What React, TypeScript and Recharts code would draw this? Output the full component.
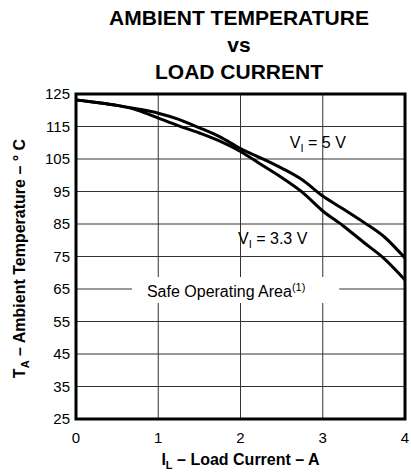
import React from 'react';
import {
  LineChart,
  Line,
  XAxis,
  YAxis,
  CartesianGrid,
  ReferenceArea,
  ReferenceDot,
} from 'recharts';

const loadCurrent = [0, 0.25, 0.5, 0.75, 1, 1.25, 1.5, 1.75, 2, 2.25, 2.5, 2.75, 3, 3.25, 3.5, 3.75, 4];
const temp5V = [123.2, 122.4, 121.5, 120.4, 119.1, 117.2, 114.6, 111.8, 108.2, 105.3, 102.2, 98.6, 93.6, 89.6, 85.5, 81.0, 74.5];
const temp33V = [123.2, 122.4, 121.5, 120.0, 117.6, 115.2, 113.0, 110.5, 107.3, 103.3, 99.3, 94.8, 89.0, 84.4, 79.3, 74.3, 67.8];
const xTicks = [0, 1, 2, 3, 4];
const yTicks = [25, 35, 45, 55, 65, 75, 85, 95, 105, 115, 125];
const titleLines = ['AMBIENT TEMPERATURE', 'vs', 'LOAD CURRENT'];

const data = loadCurrent.map((x, i) => ({ x, v5: temp5V[i], v33: temp33V[i] }));

const FONT = '"Liberation Sans", Arial, Helvetica, sans-serif';

const XLabel = (props: any) => {
  const vb = props.viewBox || {};
  const cx = vb.x + vb.width / 2;
  return (
    <text x={cx} y={vb.y + 46} textAnchor="middle" fontFamily={FONT} fontWeight="bold" fontSize={16} fill="#000">
      <tspan>I</tspan>
      <tspan fontSize={11} dy={4}>L</tspan>
      <tspan dy={-4}> – Load Current – A</tspan>
    </text>
  );
};

const YLabel = (props: any) => {
  const vb = props.viewBox || {};
  const cy = vb.y + vb.height / 2 + 2;
  const x = 25;
  return (
    <text x={x} y={cy} transform={`rotate(-90, ${x}, ${cy})`} textAnchor="middle" fontFamily={FONT} fontWeight="bold" fontSize={16} fill="#000">
      <tspan>T</tspan>
      <tspan fontSize={11} dy={4}>A</tspan>
      <tspan dy={-4}> – Ambient Temperature – ° C</tspan>
    </text>
  );
};

const SafeLabel = (props: any) => {
  const vb = props.viewBox || {};
  return (
    <text x={vb.x + 15} y={vb.y + 20} fontFamily={FONT} fontSize={16} fill="#000">
      <tspan>Safe Operating Area</tspan>
      <tspan fontSize={11} dy={-6}>(1)</tspan>
    </text>
  );
};

const makeVLabel = (rest: string) => (props: any) => {
  const vb = props.viewBox || {};
  const x = vb.x + (vb.width || 0) / 2;
  const y = vb.y + (vb.height || 0) / 2;
  return (
    <text x={x} y={y} fontFamily={FONT} fontSize={16} fill="#000">
      <tspan>V</tspan>
      <tspan fontSize={11} dy={4}>I</tspan>
      <tspan dy={-4}>{rest}</tspan>
    </text>
  );
};

export default function App() {
  return (
    <div style={{ position: 'absolute', left: 0, top: 0, width: 411, height: 473, background: '#fff' }}>
      <svg width={411} height={90} style={{ position: 'absolute', left: 0, top: 0 }}>
        {titleLines.map((t, i) => (
          <text key={t} x={239} y={25 + i * 27} textAnchor="middle" fontFamily={FONT} fontWeight="bold" fontSize={21} fill="#000">
            {t}
          </text>
        ))}
      </svg>
      <div style={{ position: 'absolute', left: 0, top: 0 }}>
        <LineChart width={411} height={473} data={data} margin={{ top: 94, right: 6, bottom: 24, left: 6 }}>
          <CartesianGrid stroke="#333" strokeWidth={1} horizontalValues={yTicks} verticalValues={xTicks} />
          <XAxis
            dataKey="x"
            type="number"
            domain={[0, 4]}
            ticks={xTicks}
            axisLine={false}
            tickLine={false}
            tickSize={6}
            tickMargin={7}
            height={30}
            tick={{ fontFamily: FONT, fontSize: 15, fill: '#000' }}
            label={<XLabel />}
          />
          <YAxis
            type="number"
            domain={[25, 125]}
            ticks={yTicks}
            axisLine={false}
            tickLine={false}
            tickSize={4}
            tickMargin={2}
            width={70}
            interval={0}
            tick={{ fontFamily: FONT, fontSize: 15, fill: '#000' }}
            label={<YLabel />}
          />
          <ReferenceArea x1={0.68} x2={3.2} y1={60.7} y2={68.7} fill="#fff" fillOpacity={1} stroke="none" label={<SafeLabel />} />
          <Line type="monotone" dataKey="v5" stroke="#000" strokeWidth={3} dot={false} isAnimationActive={false} />
          <Line type="monotone" dataKey="v33" stroke="#000" strokeWidth={3} dot={false} isAnimationActive={false} />
          <ReferenceDot x={2.6} y={108.4} r={0} fill="none" stroke="none" label={makeVLabel(' = 5 V')} />
          <ReferenceDot x={1.97} y={78.8} r={0} fill="none" stroke="none" label={makeVLabel(' = 3.3 V')} />
          <ReferenceArea x1={0} x2={4} y1={25} y2={125} fill="none" stroke="#000" strokeWidth={3} />
        </LineChart>
      </div>
    </div>
  );
}
